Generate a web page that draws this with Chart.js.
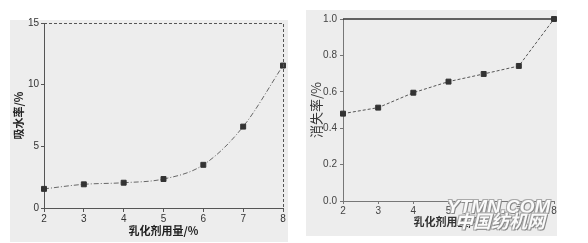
<!DOCTYPE html>
<html>
<head>
<meta charset="utf-8">
<script src="https://cdn.jsdelivr.net/npm/chart.js@4"></script>
<style>
  body { margin: 0; width: 588px; height: 243px; background: #fff; position: relative; overflow: hidden; font-family: "Liberation Sans", sans-serif; }
  .panel { position: absolute; background: #ededed; }
  .box { position: absolute; top: 0; width: 294px; height: 243px; }
  .mark { position: absolute; font-style: italic; font-weight: bold; line-height: 1; color: #fafafa; text-shadow: 1px 1px 0 #888, -1px -1px 0 #aaa, 1px -1px 0 #aaa, -1px 1px 0 #aaa; }
</style>
</head>
<body>
<div class="panel" style="left:10px;top:20px;width:278px;height:222px"></div>
<div class="panel" style="left:306px;top:10px;width:251px;height:226px"></div>
<div class="box" style="left:0"><canvas id="left"></canvas></div>
<div class="box" style="left:294px"><canvas id="right"></canvas></div>
<div class="mark" style="left:447px;top:197px;font-family:'Liberation Sans';font-size:19px">YTMN.COM</div>
<div class="mark" style="left:455px;top:211px;font-family:'Noto Sans CJK SC';font-size:18px">中国纺机网</div>
<script>
// 乳化剂用量 / %
const dosage = [2, 3, 4, 5, 6, 7, 8];
// 吸水率 / %
const waterAbsorption = [1.55, 1.92, 2.05, 2.35, 3.5, 6.6, 11.55];
// 消失率 / %
const lossRate = [0.48, 0.513, 0.595, 0.656, 0.698, 0.742, 1.0];
const topLine = [1, 1, 1, 1, 1, 1, 1];

const tickFont = { family: 'Liberation Sans', size: 10 };
const titleFont = { family: 'Noto Sans CJK SC', size: 11, weight: 'bold' };

// dashed frame on top / right for the left plot
const frame = {
  id: 'frame',
  afterDraw(chart) {
    const a = chart.chartArea, c = chart.ctx;
    c.save();
    c.strokeStyle = '#555';
    c.lineWidth = 1;
    c.setLineDash([3, 2]);
    c.beginPath();
    c.moveTo(a.left, a.top + 0.5);
    c.lineTo(a.right + 0.5, a.top + 0.5);
    c.lineTo(a.right + 0.5, a.bottom);
    c.stroke();
    c.restore();
  }
};

function pts(xs, ys) {
  return xs.map((x, i) => ({ x: x, y: ys[i] }));
}

new Chart(document.getElementById('left'), {
  type: 'line',
  data: {
    datasets: [{
      data: pts(dosage, waterAbsorption),
      borderColor: '#666',
      borderWidth: 1,
      borderDash: [5, 2, 1, 2],
      cubicInterpolationMode: 'monotone',
      pointStyle: 'rect',
      pointRadius: 3.5,
      pointBackgroundColor: '#333',
      pointBorderColor: '#333',
      clip: false
    }]
  },
  options: {
    responsive: true,
    maintainAspectRatio: false,
    animation: false,
    layout: { padding: { top: 23, right: 11, left: 0, bottom: 0 } },
    plugins: { legend: { display: false }, tooltip: { enabled: false } },
    scales: {
      x: {
        type: 'linear', min: 2, max: 8,
        afterFit: s => { s.height = 35; },
        grid: { drawOnChartArea: false, tickLength: 4, color: '#555' },
        border: { color: '#555', dash: [3, 2] },
        ticks: { stepSize: 1, font: tickFont, color: '#333', padding: 1 },
        title: { display: true, text: '乳化剂用量/%', font: titleFont, color: '#222', padding: { top: 0, bottom: 6 } }
      },
      y: {
        min: 0, max: 15,
        afterFit: s => { s.width = 44; },
        grid: { drawOnChartArea: false, tickLength: 3, color: '#555' },
        border: { color: '#555', dash: [3, 2] },
        ticks: { stepSize: 5, font: tickFont, color: '#333', padding: 2 },
        title: { display: true, text: '吸水率/%', font: titleFont, color: '#222', padding: { top: 12, bottom: 0 } }
      }
    }
  },
  plugins: [frame]
});

new Chart(document.getElementById('right'), {
  type: 'line',
  data: {
    datasets: [{
      data: pts(dosage, topLine),
      borderColor: '#333',
      borderWidth: 1.3,
      pointRadius: 0,
      clip: false
    }, {
      data: pts(dosage, lossRate),
      borderColor: '#555',
      borderWidth: 1,
      borderDash: [3, 2],
      tension: 0,
      pointStyle: 'rect',
      pointRadius: 3.5,
      pointBackgroundColor: '#333',
      pointBorderColor: '#333',
      clip: false
    }]
  },
  options: {
    responsive: true,
    maintainAspectRatio: false,
    animation: false,
    layout: { padding: { top: 19, right: 34, left: 0, bottom: 0 } },
    plugins: { legend: { display: false }, tooltip: { enabled: false } },
    scales: {
      x: {
        type: 'linear', min: 2, max: 8,
        afterFit: s => { s.height = 42; },
        grid: { drawOnChartArea: false, tickLength: 3, color: '#777' },
        border: { color: '#777' },
        ticks: { stepSize: 1, font: tickFont, color: '#444', padding: 1 },
        title: { display: true, text: '乳化剂用量/%', font: titleFont, color: '#333', padding: { top: 0, bottom: 15 } }
      },
      y: {
        min: 0, max: 1,
        afterFit: s => { s.width = 49; },
        grid: { drawOnChartArea: false, tickLength: 3, color: '#777' },
        border: { color: '#777' },
        ticks: { stepSize: 0.2, font: tickFont, color: '#444', padding: 3, callback: v => v.toFixed(1) },
        title: { display: true, text: '消失率/%', font: { family: 'Noto Sans CJK SC', size: 13 }, color: '#333', padding: { top: 14, bottom: 0 } }
      }
    }
  }
});
</script>
</body>
</html>
